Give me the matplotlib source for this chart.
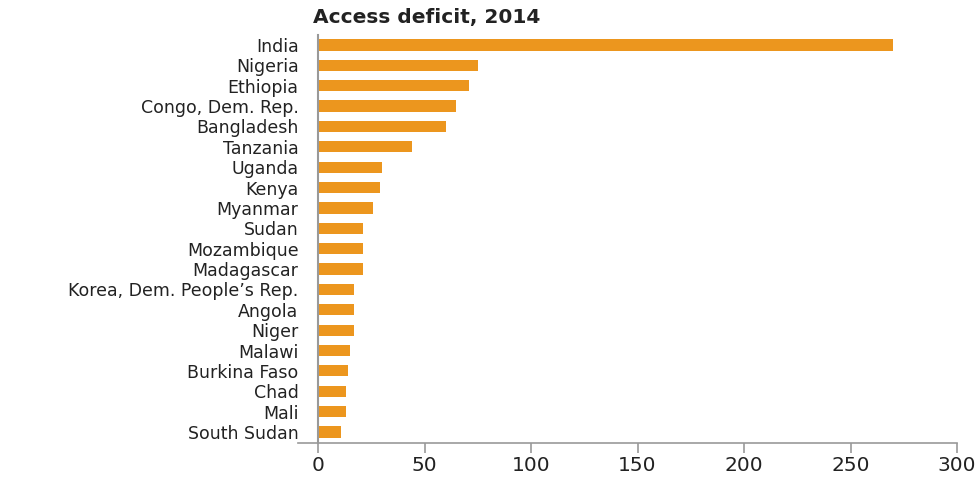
import matplotlib
matplotlib.use("Agg")
import matplotlib.pyplot as plt

# countries, top to bottom
countries = ["India", "Nigeria", "Ethiopia", "Congo, Dem. Rep.", "Bangladesh",
             "Tanzania", "Uganda", "Kenya", "Myanmar", "Sudan", "Mozambique",
             "Madagascar", "Korea, Dem. People\u2019s Rep.", "Angola", "Niger",
             "Malawi", "Burkina Faso", "Chad", "Mali", "South Sudan"]
# access deficit, millions of people
deficit = [270, 75, 71, 65, 60, 44, 30, 29, 26, 21, 21, 21, 17, 17, 17,
           15, 14, 13, 13, 11]
xticks = [0, 50, 100, 150, 200, 250, 300]

fig = plt.figure(figsize=(9.75, 4.78), dpi=100)
ax = fig.add_axes([298 / 975, 35 / 478, (957 - 298) / 975, (443 - 35) / 478])

pos = list(range(len(countries)))
ax.barh(pos, deficit, height=0.55, color="#EC961E")

ax.set_xlim(-9.4, 300)
ax.set_ylim(len(countries) - 0.46, -0.49)

ax.set_yticks(pos)
ax.set_yticklabels(countries)
ax.tick_params(axis="y", length=0, pad=14, labelsize=12.5,
               labelcolor="#222222")
ax.set_xticks(xticks)
ax.set_xticklabels([str(t) for t in xticks])
ax.tick_params(axis="x", direction="out", length=7, width=1.2,
               color="#999999", pad=2.5, labelsize=14.5, labelcolor="#222222")

for s in ["top", "right"]:
    ax.spines[s].set_visible(False)
ax.spines["left"].set_position(("data", 0))
ax.spines["left"].set_color("#999999")
ax.spines["left"].set_linewidth(1.5)
ax.spines["bottom"].set_color("#999999")
ax.spines["bottom"].set_linewidth(1.2)

fig.text(313 / 975, 1 - 18 / 478, "Access deficit, 2014", fontsize=14.5,
         fontweight="bold", color="#222222", va="center", ha="left")

fig.savefig("out.png", dpi=100)
